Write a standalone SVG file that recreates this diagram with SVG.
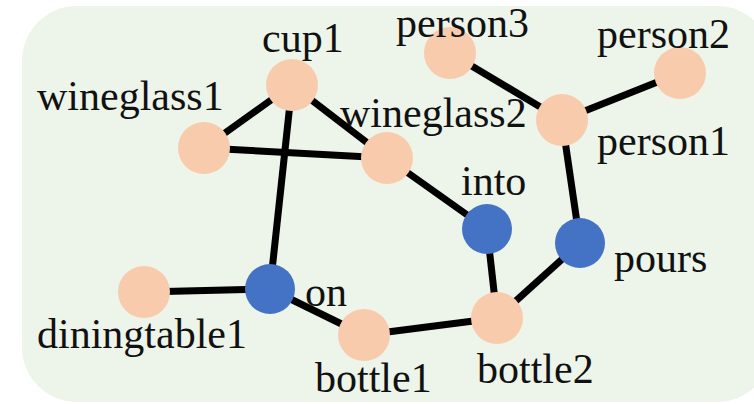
<svg xmlns="http://www.w3.org/2000/svg" width="754" height="404" viewBox="0 0 754 404">
<style>
.bg{fill:#EDF4EA}
.e{stroke:#000;stroke-width:7;fill:none}
.o{fill:#F8CBAD}
.r{fill:#4472C4}
text{font-family:"Liberation Serif","Times New Roman",serif;font-size:42px;fill:#111}
</style>
<rect class="bg" x="22" y="6" width="750" height="396" rx="55" ry="55"/>
<g id="connectors">
<line class="e" x1="204" y1="148" x2="292" y2="85"/>
<line class="e" x1="204" y1="148" x2="387" y2="158"/>
<line class="e" x1="292" y1="85" x2="387" y2="158"/>
<line class="e" x1="292" y1="85" x2="270" y2="289"/>
<line class="e" x1="387" y1="158" x2="487" y2="229"/>
<line class="e" x1="487" y1="229" x2="497" y2="318"/>
<line class="e" x1="144" y1="292" x2="270" y2="289"/>
<line class="e" x1="270" y1="289" x2="364" y2="335"/>
<line class="e" x1="364" y1="335" x2="497" y2="318"/>
<line class="e" x1="497" y1="318" x2="580" y2="243"/>
<line class="e" x1="580" y1="243" x2="562" y2="120"/>
<line class="e" x1="562" y1="120" x2="450" y2="53"/>
<line class="e" x1="562" y1="120" x2="680" y2="73"/>
</g>
<g id="cup1"><circle class="o" cx="292" cy="85" r="26"/><text x="262" y="52">cup1</text></g>
<g id="wineglass1"><circle class="o" cx="204" cy="148" r="26"/><text x="37" y="110">wineglass1</text></g>
<g id="wineglass2"><circle class="o" cx="387" cy="158" r="26"/><text x="340" y="127">wineglass2</text></g>
<g id="person3"><circle class="o" cx="450" cy="53" r="26"/><text x="396" y="37">person3</text></g>
<g id="person2"><circle class="o" cx="680" cy="73" r="26"/><text x="597" y="48">person2</text></g>
<g id="person1"><circle class="o" cx="562" cy="120" r="26"/><text x="597" y="155">person1</text></g>
<g id="into"><circle class="r" cx="487" cy="229" r="25"/><text x="461" y="195">into</text></g>
<g id="pours"><circle class="r" cx="580" cy="243" r="25"/><text x="614" y="272">pours</text></g>
<g id="on"><circle class="r" cx="270" cy="289" r="25"/><text x="305" y="306">on</text></g>
<g id="diningtable1"><circle class="o" cx="144" cy="292" r="26"/><text x="37" y="348">diningtable1</text></g>
<g id="bottle1"><circle class="o" cx="364" cy="335" r="26"/><text x="315" y="392">bottle1</text></g>
<g id="bottle2"><circle class="o" cx="497" cy="318" r="26"/><text x="477" y="383">bottle2</text></g>
</svg>
